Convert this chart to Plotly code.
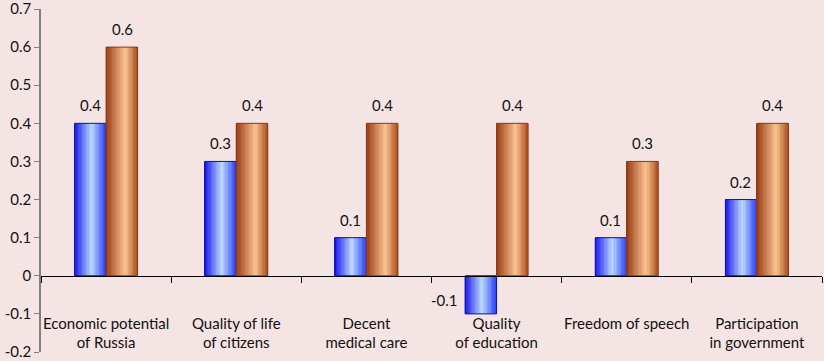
import plotly.graph_objects as go

CATEGORIES = ["Economic potential<br>of Russia", "Quality of life<br>of citizens",
              "Decent<br>medical care", "Quality<br>of education",
              "Freedom of speech", "Participation<br>in government"]
SERIES_A = [0.4, 0.3, 0.1, -0.1, 0.1, 0.2]
SERIES_B = [0.6, 0.4, 0.4, 0.4, 0.3, 0.4]
Y_TICKS = [-0.2, -0.1, 0, 0.1, 0.2, 0.3, 0.4, 0.5, 0.6, 0.7]

BG = "#F5E4E4"
FONT = "Lato"
TXT = "#111111"
FS = 15

def lerp(c1, c2, t):
    return tuple(round(a + (b - a) * t) for a, b in zip(c1, c2))

def profile(stops, t):
    for (p1, c1), (p2, c2) in zip(stops, stops[1:]):
        if p1 <= t <= p2:
            return lerp(c1, c2, (t - p1) / (p2 - p1) if p2 > p1 else 0)
    return stops[-1][1]

BLUE_STOPS = [(0, (20, 20, 235)), (0.55, (188, 218, 255)), (1, (45, 65, 245))]
ORANGE_STOPS = [(0, (150, 58, 18)), (0.62, (250, 196, 146)), (1, (172, 80, 32))]

x_idx = list(range(len(CATEGORIES)))
BAR_W = 0.242
K = 24

fig = go.Figure()

def add_bar(values, base_offset, stops, outline):
    sw = BAR_W / K
    for i in range(K):
        t = (i + 0.5) / K
        r, g, b = profile(stops, t)
        fig.add_trace(go.Bar(
            x=x_idx, y=values, offset=base_offset + i * sw,
            width=sw * (1.4 if i < K - 1 else 1.0),
            marker=dict(color=f"rgb({r},{g},{b})", line=dict(width=0)),
            hoverinfo="skip", showlegend=False))
    fig.add_trace(go.Bar(
        x=x_idx, y=values, offset=base_offset, width=BAR_W,
        marker=dict(color="rgba(0,0,0,0)", line=dict(color=outline, width=1)),
        showlegend=False))

add_bar(SERIES_A, -BAR_W, BLUE_STOPS, "#1010B0")
add_bar(SERIES_B, 0, ORANGE_STOPS, "#8A3A12")

# data labels
for i, (a, b) in enumerate(zip(SERIES_A, SERIES_B)):
    if a >= 0:
        fig.add_annotation(x=i, y=a, text=f"{a:g}", showarrow=False, xshift=-16, yshift=18,
                           font=dict(family=FONT, size=FS, color=TXT))
    else:
        fig.add_annotation(x=i, y=a, text=f"{a:g}", showarrow=False, xshift=-52, yshift=14,
                           font=dict(family=FONT, size=FS, color=TXT))
    fig.add_annotation(x=i, y=b, text=f"{b:g}", showarrow=False, xshift=16, yshift=18,
                       font=dict(family=FONT, size=FS, color=TXT))

zero_pos = (0 - Y_TICKS[0]) / (Y_TICKS[-1] - Y_TICKS[0])
n = len(CATEGORIES)

fig.update_layout(
    width=824, height=361,
    margin=dict(l=41, r=2, t=9, b=9, autoexpand=False),
    paper_bgcolor=BG, plot_bgcolor=BG,
    barmode="overlay",
    font=dict(family=FONT, size=FS, color=TXT),
    xaxis=dict(range=[-0.5, n - 0.5], anchor="free", position=zero_pos,
               showline=True, linecolor="#000", linewidth=1,
               tickvals=[i - 0.5 for i in range(n + 1)], ticks="outside", ticklen=6,
               tickcolor="#000", tickwidth=1, showticklabels=False,
               showgrid=False, zeroline=False, automargin=False),
    xaxis2=dict(range=[-0.5, n - 0.5], overlaying="x", anchor="free", position=0.115,
                tickvals=x_idx, ticktext=CATEGORIES, ticks="", showline=False,
                showgrid=False, zeroline=False, side="bottom", automargin=False,
                ticklabeloverflow="allow",
                tickfont=dict(family=FONT, size=FS, color=TXT)),
    yaxis=dict(range=[Y_TICKS[0], Y_TICKS[-1]], tickvals=Y_TICKS,
               ticktext=[f"{v:g}" for v in Y_TICKS],
               showline=True, linecolor="#808080", linewidth=1.5,
               ticks="outside", ticklen=5, tickcolor="#808080",
               showgrid=False, zeroline=False, automargin=False,
               ticklabeloverflow="allow",
               tickfont=dict(family=FONT, size=FS, color=TXT)),
)

fig.add_trace(go.Scatter(x=[None], y=[None], xaxis="x2", yaxis="y",
                         showlegend=False, hoverinfo="skip"))

fig.write_html(
    "out.html",
    config={"displayModeBar": False},
    post_script="document.body.style.margin='0';document.body.style.background='" + BG + "';",
)
